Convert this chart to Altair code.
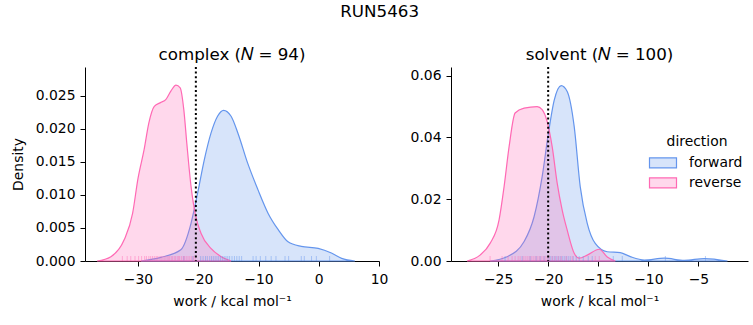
import altair as alt
import pandas as pd

FONT = "DejaVu Sans"
BLUE = "#6495ED"
PINK = "#FF69B4"

# ---- KDE curves (work, density) ----
cx_fwd_x = [-29.5, -26.2, -22.9, -21.2, -20.1, -19.0, -17.9, -16.8, -15.8, -14.55, -13.4, -11.8, -10.1, -8.4, -6.7, -5.1, -2.9, -0.1, 2.1, 3.8, 6.0]
cx_fwd_y = [0.0, 0.00055, 0.0017, 0.0057, 0.0103, 0.0153, 0.0193, 0.0219, 0.0228, 0.0219, 0.0193, 0.0148, 0.0108, 0.0072, 0.0047, 0.0029, 0.0022, 0.0019, 0.0012, 0.0004, 0.0]
cx_rev_x = [-36.8, -34.5, -32.3, -30.9, -30.0, -29.0, -28.2, -27.3, -26.2, -25.4, -24.55, -23.7, -23.0, -22.4, -21.9, -21.2, -20.4, -19.55, -17.9, -16.2, -14.55]
cx_rev_y = [0.0, 0.00066, 0.0032, 0.0072, 0.0125, 0.0168, 0.0209, 0.0234, 0.0240, 0.0244, 0.0257, 0.0266, 0.0262, 0.0229, 0.0178, 0.0113, 0.0067, 0.0042, 0.0019, 0.00065, 0.0]
sv_fwd_x = [-25.8, -24.1, -22.4, -21.4, -20.6, -20.0, -19.4, -18.7, -18.1, -17.4, -16.8, -16.1, -15.3, -14.1, -12.8, -11.8, -10.4, -8.4, -6.4, -4.4, -2.1]
sv_fwd_y = [0.0, 0.0014, 0.0063, 0.0144, 0.0273, 0.0408, 0.052, 0.0568, 0.0549, 0.0435, 0.0241, 0.0122, 0.0057, 0.003, 0.0027, 0.0014, 0.0003, 0.0009, 0.0002, 0.0008, 0.0]
sv_rev_x = [-28.1, -26.8, -25.8, -24.9, -24.4, -23.9, -23.3, -22.4, -21.1, -20.6, -20.1, -19.6, -19.1, -18.6, -18.1, -17.4, -16.9, -16.1, -14.9, -14.1, -13.3]
sv_rev_y = [0.0, 0.0019, 0.0057, 0.0133, 0.0241, 0.037, 0.0479, 0.0495, 0.050, 0.049, 0.0451, 0.037, 0.0252, 0.0165, 0.010, 0.0025, 0.0009, 0.0019, 0.0038, 0.0013, 0.0]

# ---- rug samples (work values) ----
cx_fwd_rug = [-22.4, -20.9, -19.6, -19.2, -18.8, -18.5, -18.1, -17.8, -17.5, -17.2, -16.9, -16.6, -16.3, -16.0, -15.7, -15.4, -15.1, -14.8, -14.4, -14.0, -13.6, -13.2, -12.8, -10.9, -10.4, -9.7, -8.8, -7.9, -7.1, -5.6, -5.0, -2.9, -2.4, -1.2, -0.4, 1.8]
cx_rev_rug = [-32.6, -31.8, -31.2, -30.5, -29.9, -29.4, -28.9, -28.6, -28.2, -27.9, -27.6, -27.3, -27.0, -26.8, -26.5, -26.2, -26.0, -25.7, -25.5, -25.2, -25.0, -24.8, -24.5, -24.3, -24.0, -23.8, -23.5, -23.3, -23.1, -22.8, -22.5, -22.3, -22.0, -21.7, -21.4, -21.1, -20.8, -20.5]
sv_fwd_rug = [-24.3, -22.6, -21.8, -21.2, -20.8, -20.4, -20.0, -19.8, -19.6, -19.4, -19.2, -19.0, -18.8, -18.6, -18.4, -18.2, -18.0, -17.8, -17.5, -17.2, -16.9, -16.5, -16.0, -15.6, -13.5, -12.6, -8.3, -4.3]
sv_rev_rug = [-25.8, -24.6, -24.0, -23.6, -23.3, -23.0, -22.8, -22.5, -22.3, -22.1, -21.9, -21.7, -21.5, -21.3, -21.1, -20.9, -20.7, -20.5, -20.3, -20.1, -19.9, -19.6, -19.3, -19.0, -18.7, -18.2, -17.6, -15.3, -14.9]

# vertical dotted reference lines
ref_complex = -20.4
ref_solvent = -20.0

directions = ["forward", "reverse"]


def curves(fx, fy, rx, ry):
    rows = [{"direction": "forward", "work": a, "density": b} for a, b in zip(fx, fy)]
    rows += [{"direction": "reverse", "work": a, "density": b} for a, b in zip(rx, ry)]
    return pd.DataFrame(rows)


def rugs(f, r):
    rows = [{"direction": "forward", "work": a} for a in f]
    rows += [{"direction": "reverse", "work": a} for a in r]
    return pd.DataFrame(rows)


H = 194
legend_cfg = alt.Legend(
    title="direction", orient="none", legendX=567, legendY=68, offset=0,
    symbolType="M-1.35,-0.5H1.35V0.5H-1.35Z", symbolSize=400, symbolStrokeWidth=1.2,
    labelFontSize=13.9, titleFontSize=13.9, titleFontWeight="normal",
    labelFont=FONT, titleFont=FONT, titleAnchor="middle", labelOffset=15,
    rowPadding=1, titlePadding=3, labelColor="black", titleColor="black",
)


def panel(cdf, rdf, ref, title, width, xdom, xticks, ydom, yticks, yfmt, ytitle):
    x = alt.X("work:Q", scale=alt.Scale(domain=xdom, nice=False, zero=False),
              axis=alt.Axis(values=xticks, title="work / kcal mol⁻¹", format="d"))
    fill = alt.Fill("direction:N", scale=alt.Scale(domain=directions,
                    range=["rgba(100,149,237,0.26)", "rgba(255,105,180,0.26)"]),
                    legend=legend_cfg)
    stroke = alt.Stroke("direction:N", scale=alt.Scale(domain=directions, range=[BLUE, PINK]),
                        legend=legend_cfg)
    area = alt.Chart(cdf).mark_area(interpolate="monotone", strokeWidth=1.2).encode(
        x=x,
        y=alt.Y("density:Q", stack=None, scale=alt.Scale(domain=ydom, nice=False),
                axis=alt.Axis(values=yticks, format=yfmt, title=ytitle)),
        fill=fill, stroke=stroke,
    )
    rug = alt.Chart(rdf).mark_rule(strokeWidth=1, opacity=0.45).encode(
        x=alt.X("work:Q"),
        y=alt.value(H - 5), y2=alt.value(H),
        color=alt.Color("direction:N", scale=alt.Scale(domain=directions, range=[BLUE, PINK]), legend=None),
    )
    vline = alt.Chart(pd.DataFrame({"work": [ref]})).mark_rule(
        color="black", strokeWidth=2, strokeDash=[2, 2.6]).encode(x="work:Q")
    return alt.layer(area, rug, vline).properties(
        width=width, height=H, title=alt.Title(title, fontSize=16.7, font=FONT, fontWeight="normal", offset=2))


left = panel(curves(cx_fwd_x, cx_fwd_y, cx_rev_x, cx_rev_y), rugs(cx_fwd_rug, cx_rev_rug), ref_complex,
             "complex (𝑁 = 94)", 294, [-38.8, 10], [-30, -20, -10, 0, 10], [0, 0.02935],
             [0, 0.005, 0.01, 0.015, 0.02, 0.025], ".3f", "Density")
right = panel(curves(sv_fwd_x, sv_fwd_y, sv_rev_x, sv_rev_y), rugs(sv_fwd_rug, sv_rev_rug), ref_solvent,
              "solvent (𝑁 = 100)", 297, [-29.7, -0.05], [-25, -20, -15, -10, -5], [0, 0.0628],
              [0, 0.02, 0.04, 0.06], ".2f", None)

chart = alt.hconcat(left, right, spacing=22).resolve_scale(x="independent", y="independent").properties(
    title=alt.Title("RUN5463", fontSize=16.7, font=FONT, fontWeight="normal", anchor="middle", offset=27),
    padding={"left": 11, "top": 3, "right": 5, "bottom": 5},
).configure_view(stroke=None).configure_axis(
    labelFont=FONT, titleFont=FONT, labelFontSize=13.9, titleFontSize=13.9,
    titleFontWeight="normal", labelColor="black", titleColor="black",
    domainColor="black", tickColor="black", tickSize=5, grid=False, zindex=1,
    labelPadding=5, titlePadding=10, labelFlush=False,
).configure_axisX(labelPadding=6, titlePadding=9)

chart.save("out.html", embed_options={"renderer": "svg", "actions": False})
